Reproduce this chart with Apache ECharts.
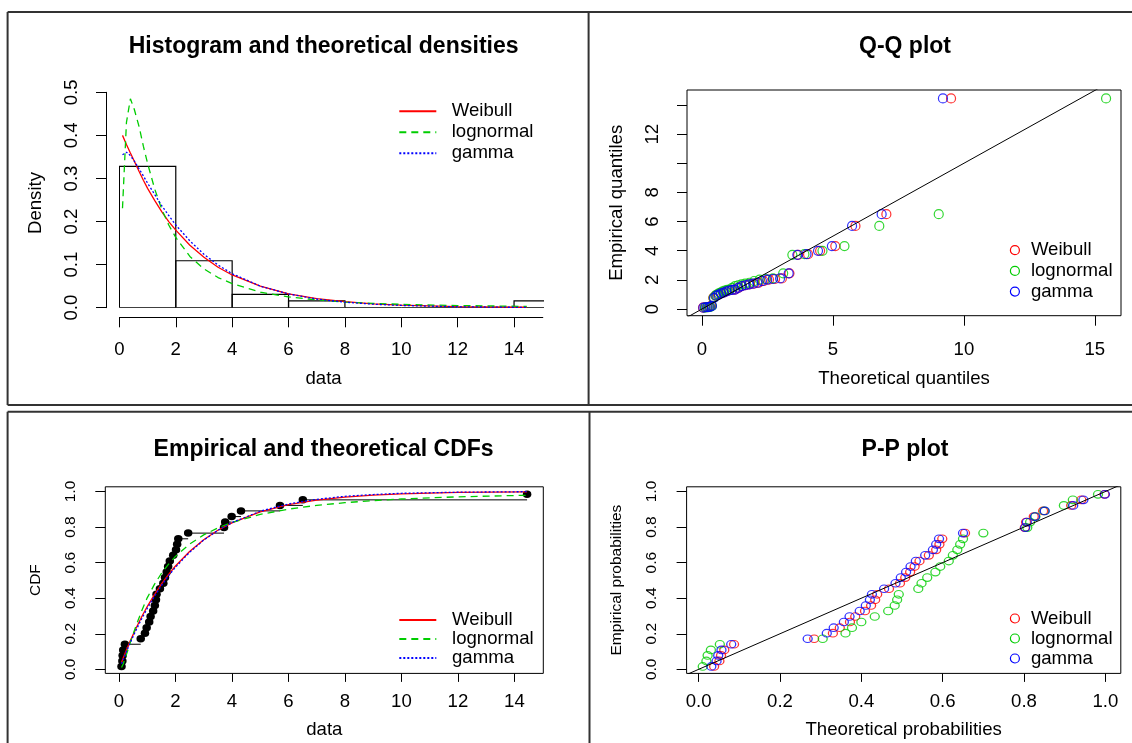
<!DOCTYPE html>
<html>
<head>
<meta charset="utf-8">
<script src="https://cdn.jsdelivr.net/npm/echarts@6.0.0/dist/echarts.min.js"></script>
<style>
html,body{margin:0;padding:0;background:#fff;}
#chart{width:1132px;height:743px;}
</style>
</head>
<body>
<div id="chart"></div>
<script>
// ================= DATA =================
// Histogram (density scale)
const histBreaks = [0, 2, 4, 6, 8, 10, 12, 14, 16];
const histDensity = [0.328, 0.109, 0.031, 0.016, 0, 0, 0, 0.016];

// Fitted densities
const densX = [0.11, 0.25, 0.39, 0.53, 0.7, 0.85, 1.0, 1.25, 1.5, 1.75, 2.0, 2.5, 3.0, 3.5, 4.0, 5.0, 6.0, 7.0, 8.0, 9.0, 10.0, 12.0, 14.45];
const densWeibull = [0.400, 0.379, 0.359, 0.340, 0.316, 0.296, 0.277, 0.249, 0.223, 0.200, 0.180, 0.145, 0.117, 0.094, 0.076, 0.050, 0.032, 0.021, 0.014, 0.009, 0.006, 0.0025, 0.001];
const densLognormal = [0.231, 0.430, 0.485, 0.460, 0.420, 0.375, 0.335, 0.276, 0.229, 0.192, 0.163, 0.119, 0.090, 0.070, 0.056, 0.036, 0.025, 0.018, 0.013, 0.010, 0.0078, 0.005, 0.003];
const densGamma = [0.355, 0.361, 0.353, 0.340, 0.322, 0.306, 0.289, 0.263, 0.237, 0.214, 0.192, 0.155, 0.124, 0.099, 0.079, 0.050, 0.032, 0.020, 0.0128, 0.0082, 0.0052, 0.0021, 0.0007];

// Sorted observations and plotting positions
const sortedData = [0.09, 0.12, 0.13, 0.15, 0.21, 0.77, 0.92, 0.98, 1.07, 1.12, 1.21, 1.27, 1.31, 1.33, 1.45, 1.57, 1.63, 1.69, 1.74, 1.80, 1.92, 2.02, 2.06, 2.10, 2.45, 3.72, 3.76, 3.99, 4.32, 5.70, 6.51, 14.45];
const probPoints = [0.016, 0.047, 0.078, 0.109, 0.141, 0.172, 0.203, 0.234, 0.266, 0.297, 0.328, 0.359, 0.391, 0.422, 0.453, 0.484, 0.516, 0.547, 0.578, 0.609, 0.641, 0.672, 0.703, 0.734, 0.766, 0.797, 0.828, 0.859, 0.891, 0.922, 0.953, 0.984];

// Q-Q: theoretical quantiles
const qqWeibull = [0.04, 0.11, 0.19, 0.27, 0.35, 0.43, 0.52, 0.61, 0.71, 0.81, 0.92, 1.02, 1.14, 1.26, 1.39, 1.52, 1.67, 1.82, 1.99, 2.16, 2.35, 2.56, 2.79, 3.05, 3.34, 3.67, 4.05, 4.51, 5.09, 5.86, 7.04, 9.51];
const qqLognormal = [0.11, 0.19, 0.26, 0.32, 0.38, 0.44, 0.51, 0.57, 0.64, 0.71, 0.79, 0.87, 0.96, 1.05, 1.15, 1.26, 1.38, 1.51, 1.65, 1.81, 1.99, 2.20, 2.43, 2.71, 3.10, 3.45, 3.91, 4.60, 5.44, 6.77, 9.04, 15.43];
const qqGamma = [0.05, 0.14, 0.22, 0.30, 0.38, 0.46, 0.55, 0.64, 0.73, 0.83, 0.93, 1.04, 1.15, 1.26, 1.38, 1.52, 1.66, 1.80, 1.95, 2.11, 2.29, 2.49, 2.71, 2.98, 3.31, 3.64, 3.99, 4.43, 4.96, 5.73, 6.86, 9.20];
const qqRefLine = [-1, 17];

// P-P: theoretical probabilities
const ppWeibull = [0.038, 0.051, 0.055, 0.063, 0.087, 0.284, 0.330, 0.347, 0.372, 0.385, 0.409, 0.424, 0.434, 0.439, 0.468, 0.495, 0.508, 0.520, 0.531, 0.543, 0.566, 0.584, 0.592, 0.599, 0.655, 0.802, 0.805, 0.824, 0.847, 0.916, 0.941, 0.998];
const ppLognormal = [0.010, 0.019, 0.022, 0.030, 0.052, 0.305, 0.361, 0.377, 0.400, 0.433, 0.466, 0.482, 0.488, 0.492, 0.540, 0.548, 0.562, 0.582, 0.594, 0.615, 0.625, 0.636, 0.643, 0.650, 0.700, 0.808, 0.815, 0.828, 0.850, 0.898, 0.920, 0.982];
const ppGamma = [0.031, 0.044, 0.048, 0.056, 0.080, 0.268, 0.315, 0.332, 0.357, 0.371, 0.396, 0.411, 0.421, 0.426, 0.456, 0.484, 0.497, 0.510, 0.521, 0.534, 0.557, 0.576, 0.584, 0.591, 0.650, 0.803, 0.807, 0.827, 0.851, 0.921, 0.946, 0.999];
const ppRefLine = [-0.1, 1.1];

// Fitted CDFs
const cdfX = [0.09, 0.15, 0.25, 0.4, 0.6, 0.8, 1.0, 1.25, 1.5, 1.75, 2.0, 2.5, 3.0, 3.5, 4.0, 5.0, 6.0, 7.0, 8.0, 9.0, 10.0, 12.0, 14.45];
const cdfWeibull = [0.038, 0.063, 0.103, 0.160, 0.230, 0.294, 0.353, 0.419, 0.479, 0.533, 0.581, 0.663, 0.729, 0.782, 0.824, 0.886, 0.926, 0.952, 0.969, 0.980, 0.987, 0.995, 0.998];
const cdfLognormal = [0.010, 0.030, 0.076, 0.150, 0.243, 0.327, 0.402, 0.476, 0.539, 0.590, 0.635, 0.704, 0.756, 0.795, 0.826, 0.871, 0.901, 0.922, 0.937, 0.949, 0.958, 0.970, 0.979];
const cdfGamma = [0.031, 0.054, 0.094, 0.150, 0.219, 0.283, 0.342, 0.409, 0.470, 0.525, 0.574, 0.658, 0.727, 0.781, 0.825, 0.889, 0.930, 0.956, 0.973, 0.983, 0.990, 0.996, 0.999];

// Tick values / labels
const histXTicks = [0, 2, 4, 6, 8, 10, 12, 14];
const histYTicks = [0, 0.1, 0.2, 0.3, 0.4, 0.5];
const qqXTicks = [0, 5, 10, 15];
const qqYTicks = [0, 2, 4, 6, 8, 10, 12, 14];
const qqYLabels = [0, 2, 4, 6, 8, 12];
const cdfXTicks = [0, 2, 4, 6, 8, 10, 12, 14];
const unitTicks = [0, 0.2, 0.4, 0.6, 0.8, 1.0];

const distNames = ['Weibull', 'lognormal', 'gamma'];
const distColors = ['#FF0000', '#00CD00', '#0000FF'];

// ================= CHART =================
const FONT = "'Liberation Sans', Arial, Helvetica, sans-serif";
const FS = 18.6, FS_ROT_B = 15.5, TFS = 23;
const mctx = document.createElement('canvas').getContext('2d');
function tw(text, size, weight) { mctx.font = (weight || 'normal') + ' ' + size + 'px ' + FONT; return mctx.measureText(text).width; }
function centeredTitle(text, cx, top) {
  return { text: text, left: cx - tw(text, TFS, 'bold') / 2, top: top, padding: 0,
    textStyle: { fontSize: TFS, fontWeight: 'bold', color: '#000', fontFamily: FONT } };
}
const dashTypes = ['solid', [7, 5], [2, 2]];
const pair = (xs, ys) => xs.map((x, i) => [x, ys[i]]);
const splitName = n => n.split('|')[0];

function axisBase(o) {
  return Object.assign({
    type: 'value', splitLine: { show: false }, nameMoveOverlap: false,
    axisLine: { show: false, onZero: false, lineStyle: { color: '#000', width: 1 } },
    axisTick: { show: true, length: 10, lineStyle: { color: '#000', width: 1 } },
    axisLabel: { color: '#000', fontSize: FS, fontFamily: FONT },
    nameLocation: 'middle',
    nameTextStyle: { color: '#000', fontSize: FS, fontFamily: FONT }
  }, o);
}
const fmt1 = v => v.toFixed(1);

const grids = [
  { left: 119.4, top: 92.3, width: 423.4, height: 215.4, show: false },
  { left: 687, top: 90, width: 434, height: 225.7, show: true, borderColor: '#000', borderWidth: 1 },
  { left: 105.3, top: 486.8, width: 438, height: 186.6, show: true, borderColor: '#000', borderWidth: 1 },
  { left: 686.6, top: 486.8, width: 434.2, height: 186.6, show: true, borderColor: '#000', borderWidth: 1 }
].map(g => Object.assign({ containLabel: false, outerBoundsMode: 'none', backgroundColor: 'transparent' }, g));

const xAxes = [
  axisBase({ gridIndex: 0, min: 0, max: 15.02, offset: 9.6,
    axisLine: { show: true, onZero: false, lineStyle: { color: '#000', width: 1 } },
    axisTick: { show: true, length: 10, customValues: histXTicks, lineStyle: { color: '#000' } },
    axisLabel: { customValues: histXTicks, margin: 23, color: '#000', fontSize: FS, fontFamily: FONT },
    name: 'data', nameGap: 52.4,
    nameTextStyle: { color: '#000', fontSize: FS, fontFamily: FONT, padding: [0, 15, 0, 0] } }),
  axisBase({ gridIndex: 1, min: -0.573, max: 16.0,
    axisTick: { show: true, length: 10, customValues: qqXTicks, lineStyle: { color: '#000' } },
    axisLabel: { customValues: qqXTicks, margin: 25, color: '#000', fontSize: FS, fontFamily: FONT },
    name: 'Theoretical quantiles', nameGap: 54 }),
  axisBase({ gridIndex: 2, min: -0.484, max: 15.024,
    axisTick: { show: true, length: 8.5, customValues: cdfXTicks, lineStyle: { color: '#000' } },
    axisLabel: { customValues: cdfXTicks, margin: 19, color: '#000', fontSize: FS, fontFamily: FONT },
    name: 'data', nameGap: 47.3 }),
  axisBase({ gridIndex: 3, min: -0.0297, max: 1.038,
    axisTick: { show: true, length: 8.5, customValues: unitTicks, lineStyle: { color: '#000' } },
    axisLabel: { customValues: unitTicks, margin: 19, formatter: fmt1, color: '#000', fontSize: FS, fontFamily: FONT },
    name: 'Theoretical probabilities', nameGap: 47.3 })
];

const yAxes = [
  axisBase({ gridIndex: 0, min: 0, max: 0.5, offset: 13.4,
    axisLine: { show: true, onZero: false, lineStyle: { color: '#000', width: 1 } },
    axisTick: { show: true, length: 10, customValues: histYTicks, lineStyle: { color: '#000' } },
    axisLabel: { customValues: histYTicks, rotate: 90, margin: 25, formatter: fmt1, color: '#000', fontSize: FS, fontFamily: FONT },
    name: 'Density', nameGap: 60.7,
    nameTextStyle: { color: '#000', fontSize: FS, fontFamily: FONT, padding: [0, 6, 0, 0] } }),
  axisBase({ gridIndex: 1, min: -0.46, max: 15.03,
    axisTick: { show: true, length: 10, customValues: qqYTicks, lineStyle: { color: '#000' } },
    axisLabel: { customValues: qqYLabels, rotate: 90, margin: 25, color: '#000', fontSize: FS, fontFamily: FONT },
    name: 'Empirical quantiles', nameGap: 61.1 }),
  axisBase({ gridIndex: 2, min: -0.023, max: 1.0265,
    axisTick: { show: true, length: 10, customValues: unitTicks, lineStyle: { color: '#000' } },
    axisLabel: { customValues: unitTicks, rotate: 90, margin: 26.5, formatter: fmt1, color: '#000', fontSize: FS_ROT_B, fontFamily: FONT },
    name: 'CDF', nameGap: 61.2,
    nameTextStyle: { color: '#000', fontSize: FS_ROT_B, fontFamily: FONT } }),
  axisBase({ gridIndex: 3, min: -0.023, max: 1.0265,
    axisTick: { show: true, length: 10, customValues: unitTicks, lineStyle: { color: '#000' } },
    axisLabel: { customValues: unitTicks, rotate: 90, margin: 26.5, formatter: fmt1, color: '#000', fontSize: FS_ROT_B, fontFamily: FONT },
    name: 'Empirical probabilities', nameGap: 62.2,
    nameTextStyle: { color: '#000', fontSize: FS_ROT_B, fontFamily: FONT } })
];

const series = [];
// Panel 1: histogram
series.push({
  type: 'custom', name: 'histogram', xAxisIndex: 0, yAxisIndex: 0, clip: true, silent: true,
  data: histDensity.map((d, i) => [histBreaks[i], histBreaks[i + 1], d]),
  encode: { x: [0, 1], y: 2 },
  renderItem: function (params, api) {
    const a = api.coord([api.value(0), 0]);
    const b = api.coord([api.value(1), api.value(2)]);
    return { type: 'rect', shape: { x: a[0], y: b[1], width: b[0] - a[0], height: a[1] - b[1] },
      style: { fill: 'none', stroke: '#000', lineWidth: 1.2 } };
  }
});
const densSets = [densWeibull, densLognormal, densGamma];
distNames.forEach((n, k) => series.push({
  type: 'line', name: n + '|dens', xAxisIndex: 0, yAxisIndex: 0, symbol: 'none', silent: true,
  data: pair(densX, densSets[k]), itemStyle: { color: distColors[k] },
  lineStyle: { color: distColors[k], width: 1.3, type: dashTypes[k] }
}));
// Panel 2: Q-Q
const qqSets = [qqWeibull, qqLognormal, qqGamma];
distNames.forEach((n, k) => series.push({
  type: 'scatter', name: n + '|qq', xAxisIndex: 1, yAxisIndex: 1, symbol: 'circle', symbolSize: 9, silent: true,
  data: pair(qqSets[k], sortedData),
  itemStyle: { color: 'rgba(0,0,0,0)', borderColor: distColors[k], borderWidth: 1.2 }
}));
series.push({ type: 'line', name: 'qqref', xAxisIndex: 1, yAxisIndex: 1, symbol: 'none', silent: true,
  data: qqRefLine.map(v => [v, v]), lineStyle: { color: '#000', width: 1 } });
// Panel 3: CDFs
series.push({
  type: 'custom', name: 'ecdfsteps', xAxisIndex: 2, yAxisIndex: 2, clip: true, silent: true,
  data: sortedData.slice(0, -1).map((x, i) => [x, sortedData[i + 1], probPoints[i]]),
  encode: { x: [0, 1], y: 2 },
  renderItem: function (params, api) {
    const a = api.coord([api.value(0), api.value(2)]);
    const b = api.coord([api.value(1), api.value(2)]);
    return { type: 'line', shape: { x1: a[0], y1: a[1], x2: b[0], y2: b[1] }, style: { stroke: '#000', lineWidth: 1 } };
  }
});
series.push({ type: 'scatter', name: 'ecdf', xAxisIndex: 2, yAxisIndex: 2, symbol: 'circle', symbolSize: [8.5, 7.5], silent: true,
  data: pair(sortedData, probPoints), itemStyle: { color: '#000', opacity: 1 } });
const cdfSets = [cdfWeibull, cdfLognormal, cdfGamma];
distNames.forEach((n, k) => series.push({
  type: 'line', name: n + '|cdf', xAxisIndex: 2, yAxisIndex: 2, symbol: 'none', silent: true,
  data: pair(cdfX, cdfSets[k]), itemStyle: { color: distColors[k] },
  lineStyle: { color: distColors[k], width: 1.3, type: dashTypes[k] }
}));
// Panel 4: P-P
const ppSets = [ppWeibull, ppLognormal, ppGamma];
distNames.forEach((n, k) => series.push({
  type: 'scatter', name: n + '|pp', xAxisIndex: 3, yAxisIndex: 3, symbol: 'circle', symbolSize: [9, 7.6], silent: true,
  data: pair(ppSets[k], probPoints),
  itemStyle: { color: 'rgba(0,0,0,0)', borderColor: distColors[k], borderWidth: 1.2 }
}));
series.push({ type: 'line', name: 'ppref', xAxisIndex: 3, yAxisIndex: 3, symbol: 'none', silent: true,
  data: ppRefLine.map(v => [v, v]), lineStyle: { color: '#000', width: 1 } });

function lineLegend(suffix, left, top, itemH, gap, fs, pad) {
  return { orient: 'vertical', left: left, top: top, padding: 0, itemWidth: 37, itemHeight: itemH, itemGap: gap,
    selectedMode: false, data: distNames.map(n => n + '|' + suffix), formatter: splitName,
    itemStyle: { opacity: 0 },
    textStyle: { color: '#000', fontSize: fs, fontFamily: FONT, padding: [0, 0, 0, pad] } };
}
function circleLegend(suffix, left, top, itemH, gap, fs, pad) {
  return { orient: 'vertical', left: left, top: top, padding: 0, itemWidth: 9, itemHeight: itemH, itemGap: gap,
    selectedMode: false, formatter: splitName,
    data: distNames.map((n, k) => ({ name: n + '|' + suffix, icon: 'circle',
      itemStyle: { color: '#fff', borderColor: distColors[k], borderWidth: 1.2, opacity: 1 } })),
    textStyle: { color: '#000', fontSize: fs, fontFamily: FONT, padding: [0, 0, 0, pad] } };
}

const frame = { stroke: '#333', lineWidth: 2 };
const frameLines = [
  [7.6, 12, 1132, 12], [7.6, 12, 7.6, 405], [7.6, 405, 1132, 405], [588.6, 12, 588.6, 405],
  [7.6, 411.7, 1132, 411.7], [7.6, 411.7, 7.6, 743], [589.5, 411.7, 589.5, 743]
];

const option = {
  animation: false,
  backgroundColor: '#fff',
  textStyle: { fontFamily: FONT },
  title: [
    centeredTitle('Histogram and theoretical densities', 323.6, 34.8),
    centeredTitle('Q-Q plot', 905, 34.8),
    centeredTitle('Empirical and theoretical CDFs', 323.6, 438.5),
    centeredTitle('P-P plot', 905, 438.5)
  ],
  legend: [
    lineLegend('dens', 398.3, 101.8, 20, 2, FS, 10.4),
    circleLegend('qq', 1009.8, 240.7, 20, 1.7, FS, 6.5),
    lineLegend('cdf', 398.3, 610.6, 18.7, 0, FS, 10.7),
    circleLegend('pp', 1009.8, 609, 18.7, 1, FS, 6.5)
  ],
  grid: grids,
  xAxis: xAxes,
  yAxis: yAxes,
  series: series,
  graphic: frameLines.map(l => ({ type: 'line', silent: true, shape: { x1: l[0], y1: l[1], x2: l[2], y2: l[3] }, style: frame }))
};

const chart = echarts.init(document.getElementById('chart'), null, { renderer: 'canvas' });
chart.setOption(option);
</script>
</body>
</html>
